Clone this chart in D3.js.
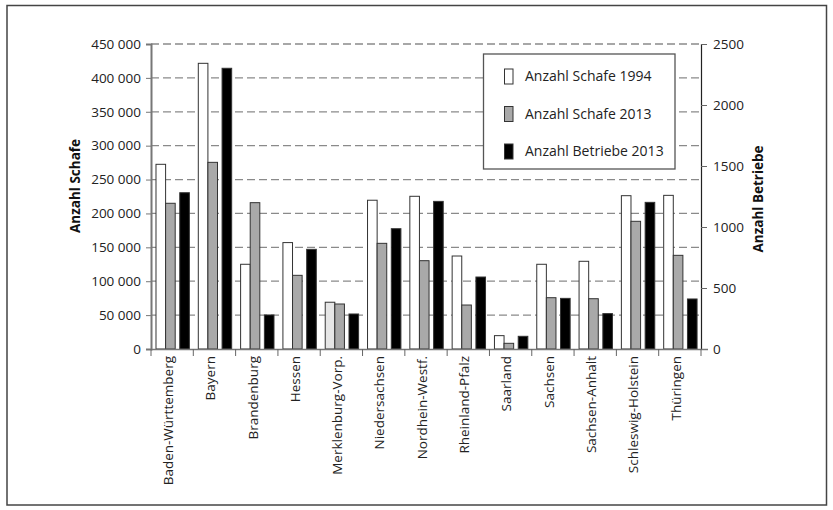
<!DOCTYPE html>
<html>
<head>
<meta charset="utf-8">
<script src="https://cdn.jsdelivr.net/npm/d3@7"></script>
<style>
  body { margin: 0; background: #fff; }
  svg { display: block; font-family: "Open Sans", "Noto Sans", sans-serif; }
</style>
</head>
<body>
<svg id="chart" width="833" height="510"></svg>
<script>
const categories = ["Baden-Württemberg", "Bayern", "Brandenburg", "Hessen", "Merklenburg-Vorp.",
  "Niedersachsen", "Nordhein-Westf.", "Rheinland-Pfalz", "Saarland", "Sachsen",
  "Sachsen-Anhalt", "Schleswig-Holstein", "Thüringen"];
const schafe1994 = [272500, 421500, 125000, 157000, 69000, 219500, 225300, 137200, 19700, 125000, 129400, 226200, 226700];
const schafe2013 = [215000, 275400, 215900, 108700, 66400, 155900, 130300, 64900, 8400, 75700, 74200, 188400, 138200];
const betriebe2013 = [1281, 2301, 279, 817, 287, 986, 1210, 590, 104, 415, 290, 1202, 410];
const leftTicks = [0, 50000, 100000, 150000, 200000, 250000, 300000, 350000, 400000, 450000];
const rightTicks = [0, 500, 1000, 1500, 2000, 2500];
const seriesNames = ["Anzahl Schafe 1994", "Anzahl Schafe 2013", "Anzahl Betriebe 2013"];

const FONT = "'Open Sans', 'Noto Sans', sans-serif";
const svg = d3.select("#chart");
const pLeft = 151, pRight = 701, pTop = 44, pBottom = 349;

// outer frame
svg.append("rect").attr("x", 7).attr("y", 5.5).attr("width", 819.5).attr("height", 499.5)
  .attr("fill", "none").attr("stroke", "#444").attr("stroke-width", 1.5);

const x = d3.scaleBand().domain(categories).range([pLeft, pRight]).paddingInner(0).paddingOuter(0);
const yL = d3.scaleLinear().domain([0, 450000]).range([pBottom, pTop]);
const yR = d3.scaleLinear().domain([0, 2500]).range([pBottom, pTop]);
const bw = x.bandwidth();
// sub-position scale inside a category band (fractions of band)
const sub = d3.scaleOrdinal().domain([0, 1, 2]).range([0.118, 0.345, 0.68]);
const barW = bw * 0.227;

const loc = d3.formatLocale({ decimal: ",", thousands: " ", grouping: [3], currency: ["", "€"] });
const fmt = loc.format(",d");

// gridlines
svg.append("g").selectAll("line").data(leftTicks.filter(d => d > 0)).join("line")
  .attr("x1", pLeft).attr("x2", pRight)
  .attr("y1", d => yL(d)).attr("y2", d => yL(d))
  .attr("stroke", "#8a8a8a").attr("stroke-width", 1.3).attr("stroke-dasharray", "8,4");

// bars
const fills = ["#ffffff", "#a9a9a9", "#000000"];
const g = svg.append("g");
categories.forEach((c, i) => {
  const vals = [
    { s: 0, y: yL(schafe1994[i]), fill: (c === "Merklenburg-Vorp." ? "#e6e6e6" : fills[0]) },
    { s: 1, y: yL(schafe2013[i]), fill: fills[1] },
    { s: 2, y: yR(betriebe2013[i]), fill: fills[2] }
  ];
  vals.forEach(v => {
    g.append("rect")
      .attr("x", x(c) + bw * sub(v.s))
      .attr("y", v.y)
      .attr("width", barW)
      .attr("height", pBottom - v.y)
      .attr("fill", v.fill)
      .attr("stroke", "#333").attr("stroke-width", 1);
  });
});

// left axis
const axL = svg.append("g").attr("transform", `translate(${pLeft},0)`)
  .call(d3.axisLeft(yL).tickValues(leftTicks).tickFormat(fmt).tickSize(5).tickPadding(5));
axL.attr("font-family", FONT);
axL.select(".domain").attr("stroke", "#777").attr("stroke-width", 2);
axL.selectAll(".tick line").attr("stroke", "#777");
axL.selectAll("text").attr("font-size", 13.5).attr("fill", "#222");

// right axis
const axR = svg.append("g").attr("transform", `translate(${pRight},0)`)
  .call(d3.axisRight(yR).tickValues(rightTicks).tickFormat(d3.format("d")).tickSize(6).tickPadding(6));
axR.attr("font-family", FONT);
axR.select(".domain").attr("stroke", "#222").attr("stroke-width", 1.2);
axR.selectAll(".tick line").attr("stroke", "#666");
axR.selectAll("text").attr("font-size", 13.5).attr("fill", "#222");

// bottom axis
const axB = svg.append("g").attr("transform", `translate(0,${pBottom})`)
  .call(d3.axisBottom(x).tickValues([]).tickSizeOuter(0));
axB.attr("font-family", FONT);
axB.select(".domain").attr("stroke", "#777").attr("stroke-width", 1.5).attr("d", `M${pLeft},0.5H${pRight + 7}`);
const sepTicks = d3.range(categories.length + 1).map(i => pLeft + i * bw);
axB.append("g").selectAll("line").data(sepTicks).join("line")
  .attr("x1", d => d).attr("x2", d => d).attr("y1", 0).attr("y2", 7)
  .attr("stroke", "#666").attr("stroke-width", 1);
axB.append("g").selectAll("text").data(categories).join("text")
  .attr("transform", d => `translate(${x(d) + bw / 2 - 4},7) rotate(-90)`)
  .attr("text-anchor", "end").attr("dy", "0.35em")
  .attr("font-size", 13.5).attr("fill", "#222")
  .text(d => d);

// axis titles
svg.append("text").attr("transform", `translate(80,186) rotate(-90)`)
  .attr("text-anchor", "middle").attr("font-size", 13.5).attr("font-weight", "bold").attr("fill", "#111")
  .attr("font-family", FONT)
  .text("Anzahl Schafe");
svg.append("text").attr("transform", `translate(763,199) rotate(-90)`)
  .attr("text-anchor", "middle").attr("font-size", 13.5).attr("font-weight", "bold").attr("fill", "#111")
  .attr("font-family", FONT)
  .text("Anzahl Betriebe");

// legend
const lg = svg.append("g").attr("font-family", FONT);
lg.append("rect").attr("x", 483.5).attr("y", 54).attr("width", 191.5).attr("height", 115)
  .attr("fill", "#fff").attr("stroke", "#555").attr("stroke-width", 1.3);
seriesNames.forEach((n, i) => {
  const cy = 76.5 + i * 37.5;
  lg.append("rect").attr("x", 504.5).attr("y", cy - 7.5).attr("width", 8.5).attr("height", 15)
    .attr("fill", fills[i]).attr("stroke", "#333").attr("stroke-width", 1);
  lg.append("text").attr("x", 525).attr("y", cy).attr("dy", "0.35em")
    .attr("font-size", 14).attr("fill", "#222").text(n);
});
</script>
</body>
</html>
